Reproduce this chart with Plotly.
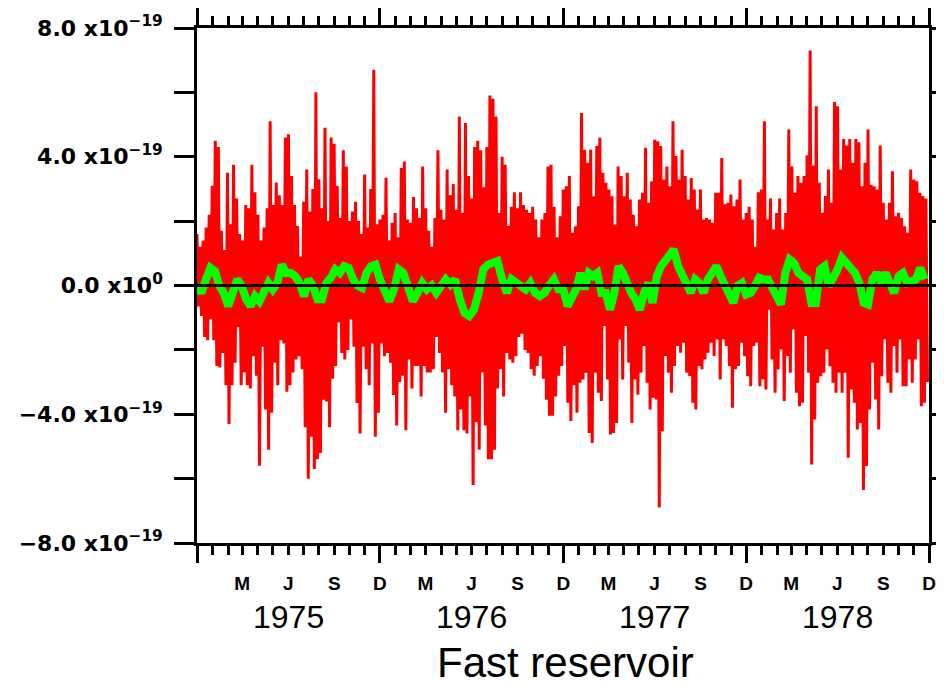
import pandas as pd
import plotly.graph_objects as go

# ---------------- data (values in units of 1e-19) ----------------
SCALE = 1e-19
YEARS = [1975, 1976, 1977, 1978]
YEAR_LABELS = ["1975", "1976", "1977", "1978"]
MONTH_LETTERS = {3: "M", 6: "J", 9: "S", 12: "D"}
Y_TICK_VALUES = [-8, -6, -4, -2, 0, 2, 4, 6, 8]
Y_TICK_TEXT = ["\u22128.0 x10<sup>\u221219</sup>", "", "\u22124.0 x10<sup>\u221219</sup>", "",
               "0.0 x10<sup>0</sup>", "", "4.0 x10<sup>\u221219</sup>", "", "8.0 x10<sup>\u221219</sup>"]
TITLE = "Fast reservoir"

# red series: alternating spike maxima / minima, per year (Dec..Dec)
up_1975 = [1.6, 1.2, 1.4, 1.8, 2.2, 3.1, 4.5, 4.3, 1.7, 1.1,
           3.5, 1.9, 3.75, 2.7, 1.6, 1.4, 2.5, 2.4, 3.75, 2.9,
           2.2, 1.4, 1.8, 2.4, 5.1, 2.5, 3.2, 2.8, 2.5, 4.6,
           4.7, 3.4, 2.5, 1.85, 0.9, 2.6, 3.6, 2.3, 3.0, 6.0,
           3.3, 2.4, 4.9, 2.0, 4.6, 4.4, 3.1, 2.1, 4.2, 3.7,
           2.0, 2.3, 2.6, 2.0, 1.6, 3.45, 1.8, 3.0, 6.7, 1.9]
lo_1975 = [-0.65, -0.95, -1.6, -1.7, -1.05, -1.7, -2.5, -2.55, -2.1, -3.1,
           -4.3, -3.1, -2.4, -1.3, -3.1, -2.7, -3.1, -3.2, -2.2, -2.8,
           -5.6, -1.9, -3.85, -5.1, -3.95, -2.4, -3.1, -1.7, -1.8, -3.3,
           -3.1, -2.7, -2.3, -2.2, -2.6, -4.4, -6.0, -4.7, -5.7, -5.4,
           -5.2, -3.55, -3.6, -4.4, -2.9, -2.5, -1.15, -2.1, -2.3, -2.0,
           -1.05, -1.9, -3.65, -4.6, -1.9, -2.6, -3.1, -1.8, -4.7, -3.95]

up_1976 = [2.05, 2.2, 3.35, 1.4, 1.95, 2.25, 1.5, 3.65, 3.85, 2.05,
           1.95, 2.75, 2.4, 2.1, 3.7, 2.4, 1.7, 1.2, 2.1, 4.2,
           2.35, 2.05, 3.6, 2.8, 3.15, 2.35, 5.25, 2.25, 5.05, 3.4,
           2.7, 4.3, 4.5, 4.2, 3.05, 4.3, 5.9, 5.8, 5.25, 2.25,
           4.0, 3.75, 1.85, 2.45, 2.9, 2.4, 2.9, 2.5, 2.35, 2.25,
           2.45, 2.05, 1.5, 2.05, 2.25, 3.7, 3.75, 2.45, 1.5, 2.15]
lo_1976 = [-1.8, -2.2, -2.1, -2.4, -3.4, -4.35, -3.0, -2.8, -4.5, -2.3,
           -3.2, -2.5, -2.5, -3.45, -2.5, -2.7, -2.7, -2.6, -1.6, -2.1,
           -2.7, -3.95, -2.6, -3.1, -3.45, -4.5, -3.85, -4.5, -4.6, -3.45,
           -6.2, -4.25, -5.1, -2.7, -4.35, -5.4, -5.4, -5.1, -3.2, -2.6,
           -3.45, -2.1, -2.3, -2.4, -2.2, -1.6, -1.5, -2.0, -2.1, -2.6,
           -2.8, -2.5, -2.2, -2.9, -3.55, -4.05, -4.05, -3.45, -2.8, -2.5]

up_1977 = [2.98, 3.08, 3.4, 1.64, 1.84, 2.46, 5.36, 4.22, 3.81, 4.22,
           2.77, 4.33, 4.59, 3.5, 3.19, 2.98, 2.77, 1.89, 3.7, 3.4,
           2.77, 3.5, 2.67, 2.2, 1.84, 2.67, 2.88, 4.28, 2.57, 3.24,
           4.53, 4.48, 4.33, 3.29, 3.7, 3.08, 5.1, 4.02, 3.29, 4.22,
           3.4, 2.67, 3.34, 2.98, 2.36, 2.98, 2.05, 2.1, 2.05, 1.95,
           2.88, 2.88, 3.96, 2.52, 2.57, 2.83, 2.46, 2.67, 3.29, 2.05]
lo_1977 = [-1.88, -3.64, -4.21, -3.1, -3.95, -3.02, -2.92, -2.71, -4.58, -4.89,
           -2.71, -3.33, -3.59, -1.26, -2.92, -4.63, -4.58, -4.27, -1.68, -2.92,
           -1.26, -2.4, -4.27, -2.92, -3.39, -2.71, -1.88, -3.02, -3.85, -3.49,
           -3.54, -6.9, -4.53, -2.19, -2.71, -3.33, -2.5, -1.88, -2.09, -1.78,
           -2.71, -2.81, -3.64, -3.85, -2.5, -2.6, -2.3, -2.09, -1.78, -2.19,
           -1.68, -2.92, -1.68, -1.88, -2.5, -3.8, -2.6, -2.5, -1.78, -2.2]

up_1978 = [2.25, 2.45, 2.05, 1.2, 2.9, 2.98, 5.1, 2.05, 2.7, 1.74,
           2.25, 2.7, 1.74, 2.25, 4.85, 3.7, 2.88, 3.4, 3.19, 3.4,
           4.05, 7.3, 3.73, 5.57, 3.19, 2.26, 2.78, 3.6, 2.57, 5.7,
           5.57, 3.6, 4.55, 4.35, 4.55, 3.81, 4.55, 4.45, 3.08, 3.81,
           4.85, 3.13, 3.08, 2.98, 4.35, 2.57, 2.05, 2.57, 3.55, 2.15,
           2.26, 2.1, 1.84, 1.64, 3.6, 3.29, 3.24, 2.88, 2.78, 2.7]
lo_1978 = [-2.82, -3.13, -1.88, -1.78, -3.13, -2.92, -3.23, -0.75, -2.3, -3.33,
           -2.61, -1.99, -3.59, -2.19, -2.71, -1.37, -3.33, -3.75, -3.64, -1.57,
           -2.71, -5.56, -4.16, -3.02, -2.82, -2.71, -1.99, -2.51, -3.02, -3.33,
           -2.71, -3.33, -2.71, -5.35, -3.23, -3.64, -4.47, -4.27, -6.35, -5.61,
           -3.85, -2.4, -3.54, -4.47, -2.82, -1.68, -3.02, -3.33, -1.88, -2.71,
           -1.68, -3.13, -3.13, -2.3, -3.02, -2.3, -1.68, -3.75, -3.64, -3.0]

# green series: smoothed signal, per year
green_1975 = [0.0, -0.23, 0.19, 0.55, 0.45, 0.0, -0.23, -0.64, -0.23, 0.19,
              0.0, -0.43, -0.64, -0.33, -0.49, -0.23, 0.08, -0.12, 0.08, 0.65,
              0.39, 0.39, 0.29, 0.08, -0.33, 0.19, 0.0, -0.43, -0.43, 0.08,
              0.24, 0.5, 0.39, 0.6, 0.55, 0.19, 0.0, -0.07, 0.39, 0.6, 0.65]
green_1976 = [0.19, -0.23, -0.49, -0.12, 0.5, 0.39, -0.12, -0.49, -0.23, 0.08,
              -0.12, 0.0, -0.23, 0.0, 0.19, 0.03, 0.19, -0.43, -0.85, -0.95,
              -0.75, -0.23, 0.5, 0.65, 0.7, 0.76, 0.19, -0.23, 0.19, 0.08,
              0.03, -0.12, 0.08, -0.23, -0.33, -0.23, 0.0, 0.19, -0.12]
green_1977 = [-0.12, -0.64, -0.43, -0.12, 0.39, -0.12, 0.39, 0.29, 0.39, -0.23,
              -0.23, -0.75, -0.23, 0.6, 0.39, 0.0, -0.23, -0.43, -0.75, -0.23,
              0.08, -0.54, 0.29, 0.6, 0.81, 1.01, 1.12, 0.6, 0.29, 0.0,
              -0.23, 0.19, 0.08, -0.23, 0.19, 0.39, 0.6, 0.29, 0.0, -0.23,
              -0.54, 0.0, 0.08]
green_1978 = [-0.28, -0.23, -0.02, 0.24, 0.19, 0.19, -0.07, -0.33, -0.59, 0.39,
              0.81, 0.7, 0.39, 0.29, 0.19, -0.54, -0.54, 0.5, 0.6, -0.02,
              0.19, 0.5, 0.86, 0.7, 0.5, 0.39, 0.08, -0.54, -0.59, 0.19,
              0.39, 0.08, 0.39, 0.08, -0.23, 0.29, 0.39, 0.08, 0.13, 0.19,
              0.55, 0.19]

UPPER = {1975: up_1975, 1976: up_1976, 1977: up_1977, 1978: up_1978}
LOWER = {1975: lo_1975, 1976: lo_1976, 1977: lo_1977, 1978: lo_1978}
GREEN = {1975: green_1975, 1976: green_1976, 1977: green_1977, 1978: green_1978}

# ---------------- build traces ----------------
red_x, red_y, grn_x, grn_y = [], [], [], []
for yr in YEARS:
    start = pd.Timestamp(yr - 1, 12, 1)
    end = pd.Timestamp(yr, 12, 1)
    ups, los = UPPER[yr], LOWER[yr]
    step = (end - start) / len(ups)
    for i, (u, l) in enumerate(zip(ups, los)):
        red_x += [start + step * i, start + step * (i + 0.5)]
        red_y += [u * SCALE, l * SCALE]
    g = GREEN[yr]
    gstep = (end - start) / len(g)
    for i, v in enumerate(g):
        grn_x.append(start + gstep * i)
        grn_y.append(v * SCALE)

x_start = pd.Timestamp(YEARS[0] - 1, 12, 1)
x_end = pd.Timestamp(YEARS[-1], 12, 1)
month_ticks = pd.date_range(x_start, x_end, freq="MS")
month_text = ["" if i == 0 else MONTH_LETTERS.get(d.month, "") for i, d in enumerate(month_ticks)]
dec_ticks = [d for d in month_ticks if d.month == 12]

fig = go.Figure()
fig.add_trace(go.Scatter(x=red_x, y=red_y, mode="lines",
                         line=dict(color="#ff0000", width=3), showlegend=False, hoverinfo="skip"))
fig.add_trace(go.Scatter(x=grn_x, y=grn_y, mode="lines",
                         line=dict(color="#00ff00", width=8), showlegend=False, hoverinfo="skip"))
# invisible trace to activate the overlaying axis for long December ticks
fig.add_trace(go.Scatter(x=[x_start, x_end], y=[0, 0], xaxis="x2", mode="lines",
                         line=dict(color="rgba(0,0,0,0)", width=0), showlegend=False, hoverinfo="skip"))

fig.add_shape(type="line", xref="paper", x0=0, x1=1, yref="y", y0=0, y1=0,
              line=dict(color="black", width=3), layer="above")

for lab in YEAR_LABELS:
    fig.add_annotation(x=pd.Timestamp(int(lab), 6, 1), xref="x", y=-0.143, yref="paper",
                       text=lab, showarrow=False, yanchor="middle", xanchor="center",
                       font=dict(family="Liberation Sans", size=32, color="black"))

fig.add_annotation(x=0.503, xref="paper", y=-0.232, yref="paper", text=TITLE, showarrow=False,
                   yanchor="middle", xanchor="center",
                   font=dict(family="Liberation Sans", size=42, color="black"))

# the page body adds an 8 px offset, so the figure is drawn 8 px smaller
fig.update_layout(
    width=936, height=678,
    margin=dict(l=189, r=15, t=20, b=143),
    paper_bgcolor="white", plot_bgcolor="white",
    xaxis=dict(type="date", range=[x_start, x_end], showgrid=False, zeroline=False, automargin=False,
               showline=True, linecolor="black", linewidth=2.5, mirror="ticks",
               tickmode="array", tickvals=list(month_ticks), ticktext=month_text,
               ticks="outside", ticklen=9, tickwidth=2.5, tickcolor="black",
               ticklabelstandoff=12,
               tickfont=dict(family="Liberation Sans", size=19, color="black", weight="bold")),
    xaxis2=dict(type="date", range=[x_start, x_end], overlaying="x", side="bottom", automargin=False,
                showgrid=False, zeroline=False, showline=False, mirror="ticks",
                tickmode="array", tickvals=dec_ticks, ticktext=[""] * len(dec_ticks),
                ticks="outside", ticklen=19, tickwidth=2.5, tickcolor="black",
                showticklabels=False),
    yaxis=dict(range=[-8 * SCALE, 8 * SCALE], showgrid=False, zeroline=False, automargin=False,
               showline=True, linecolor="black", linewidth=2.5, mirror="ticks",
               tickmode="array", tickvals=[v * SCALE for v in Y_TICK_VALUES], ticktext=Y_TICK_TEXT,
               ticks="outside", ticklen=20, tickwidth=2.5, tickcolor="black",
               ticklabelstandoff=7,
               tickfont=dict(family="DejaVu Sans", size=22, color="black", weight="bold")),
)

fig.write_html("out.html")
